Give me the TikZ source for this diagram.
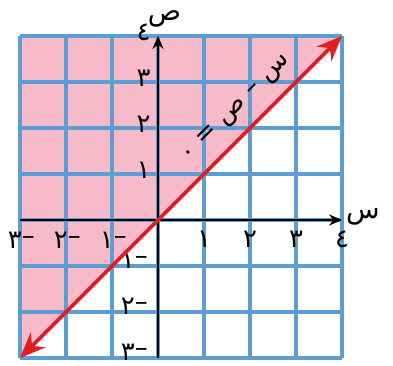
\documentclass[tikz,border=0pt]{standalone}
\usepackage{fontspec}
\newfontfamily\arabicfont[Script=Arabic]{DejaVu Sans}
\TeXXeTstate=1
\usepackage{xcolor}
\usetikzlibrary{arrows.meta, positioning}
\definecolor{gridblue}{RGB}{92,158,212}
\definecolor{regionpink}{RGB}{246,186,201}
\definecolor{linered}{RGB}{224,30,36}

\newcommand{\negnum}[1]{\beginR\raisebox{2.5pt}{–}#1\endR}

\begin{document}
\begin{tikzpicture}[
      ticklabel/.style={font=\arabicfont\fontsize{16}{18}\selectfont, inner sep=1pt},
      axisname/.style={font=\arabicfont\fontsize{17}{19}\selectfont, inner sep=1pt},
      axisline/.style={line width=1.4pt, -{Stealth[length=2.8mm, width=2.4mm]}}
    ]
      \useasboundingbox (-3.435,-3.174) rectangle (5.109,4.783);
      % half plane above the line
      \fill[regionpink] (-3,-3) -- (-3,4) -- (4,4) -- cycle;
      \draw[gridblue, line width=2.1pt] (-3,-3) grid (4,4);
      % axes
      \coordinate (xl) at (-3,0);
      \coordinate (xr) at (4,0);
      \coordinate (yb) at (0,-3);
      \coordinate (yt) at (0,4);
      \draw[axisline] (xl) -- (xr);
      \draw[axisline] (yb) -- (yt);
      \node[axisname, right=0.05cm of xr, yshift=2pt] (xname) {\beginR س\endR};
      \node[axisname, above=0.15cm of yt, xshift=4pt] (yname) {\beginR ص\endR};
      % tick labels
      \foreach \i/\d in {1/١, 2/٢, 3/٣, 4/٤} {
        \node[ticklabel] (xp\i) at (\i,-0.42) {\d};
        \node[ticklabel, anchor=east] (yp\i) at (-0.12,\i+0.08) {\d};
      }
      \foreach \i/\d in {1/١, 2/٢, 3/٣} {
        \node[ticklabel] (xn\i) at (-\i+0.03,-0.45) {\negnum{\d}};
        \node[ticklabel, anchor=east] (yn\i) at (-0.18,-\i+0.13) {\negnum{\d}};
      }
      % boundary line
      \coordinate (p1) at (-3,-3);
      \coordinate (p2) at (4,4);
      \draw[linered, line width=2.3pt, {Stealth[length=5.5mm, width=4.5mm]}-{Stealth[length=5.5mm, width=4.5mm]}] (p1) -- (p2);
      \node[rotate=45, font=\arabicfont\fontsize{16}{18}\selectfont] (eqn) at (1.72,2.4) {\beginR س – ص = ٠\endR};
    \end{tikzpicture}
\end{document}
